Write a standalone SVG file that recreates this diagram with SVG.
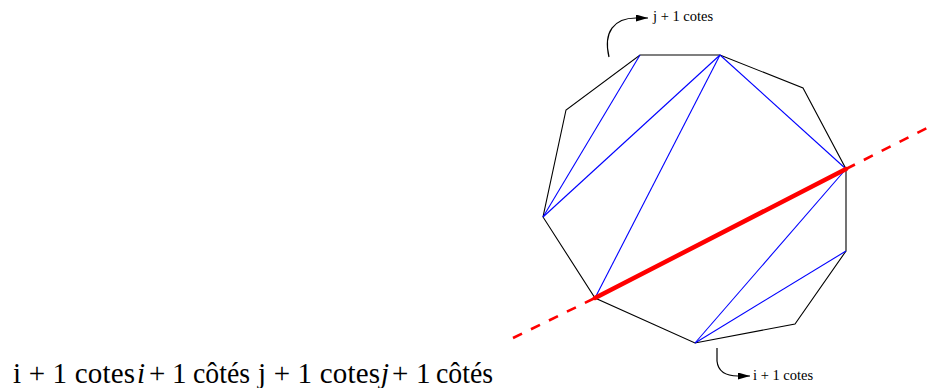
<svg xmlns="http://www.w3.org/2000/svg" width="935" height="388" viewBox="0 0 935 388">
<style>
.poly{fill:none;stroke:#000;stroke-width:1.1;stroke-linejoin:miter}
.diag{stroke:#0000ff;stroke-width:1.1;fill:none}
.cut{stroke:#ff0000;stroke-width:4.5;stroke-linecap:round;fill:none}
.dash{stroke:#ff0000;stroke-width:2.6;stroke-dasharray:10 10;fill:none}
.arr{stroke:#000;stroke-width:1.2;fill:none}
.lbl{font-family:"Liberation Serif",serif;font-size:14.5px;fill:#000}
.big{font-family:"Liberation Serif",serif;font-size:29px;fill:#000}
.it{font-style:italic}
</style>
<defs>
<marker id="ah" markerUnits="userSpaceOnUse" markerWidth="14" markerHeight="8" refX="12" refY="3.5" orient="auto">
<path d="M0,0 L12,3.5 L0,7 Z" fill="#000"/>
</marker>
</defs>
<g id="polygon">
<polygon class="poly" points="640,55 720,55 803,88 846,169 846,251 795,324 695,343 595,298 543,217 566,110"/>
</g>
<g id="connectors">
<line class="diag" x1="640" y1="55" x2="543" y2="217"/>
<line class="diag" x1="720" y1="55" x2="543" y2="217"/>
<line class="diag" x1="720" y1="55" x2="595" y2="298"/>
<line class="diag" x1="720" y1="55" x2="846" y2="169"/>
<line class="diag" x1="846" y1="169" x2="695" y2="343"/>
<line class="diag" x1="846" y1="251" x2="695" y2="343"/>
<line class="dash" x1="513" y1="338" x2="595" y2="298"/>
<line class="dash" x1="846" y1="169" x2="927" y2="128"/>
<line class="cut" x1="595" y1="298" x2="846" y2="169"/>
<path class="arr" d="M609,57 C603,32 614,18 636,18 L648,18" marker-end="url(#ah)"/>
<path class="arr" d="M717,348 L717,361 C718,371 726,376 738,376 L750,376" marker-end="url(#ah)"/>
</g>
<g id="label-j">
<text class="lbl" x="653" y="21">j + 1 cotes</text>
</g>
<g id="label-i">
<text class="lbl" x="753" y="380">i + 1 cotes</text>
</g>
<g id="caption">
<text class="big" x="13" y="383" textLength="122" lengthAdjust="spacing">i + 1 cotes</text>
<text class="big it" x="137" y="383">i</text>
<text class="big" x="149" y="383">+</text>
<text class="big" x="172" y="383">1</text>
<text class="big" x="193" y="383" textLength="57" lengthAdjust="spacingAndGlyphs">côtés</text>
<text class="big" x="258" y="383" textLength="122" lengthAdjust="spacing">j + 1 cotes</text>
<text class="big it" x="381" y="383">j</text>
<text class="big" x="392" y="383">+</text>
<text class="big" x="416" y="383">1</text>
<text class="big" x="436" y="383" textLength="57" lengthAdjust="spacingAndGlyphs">côtés</text>
</g>
</svg>
